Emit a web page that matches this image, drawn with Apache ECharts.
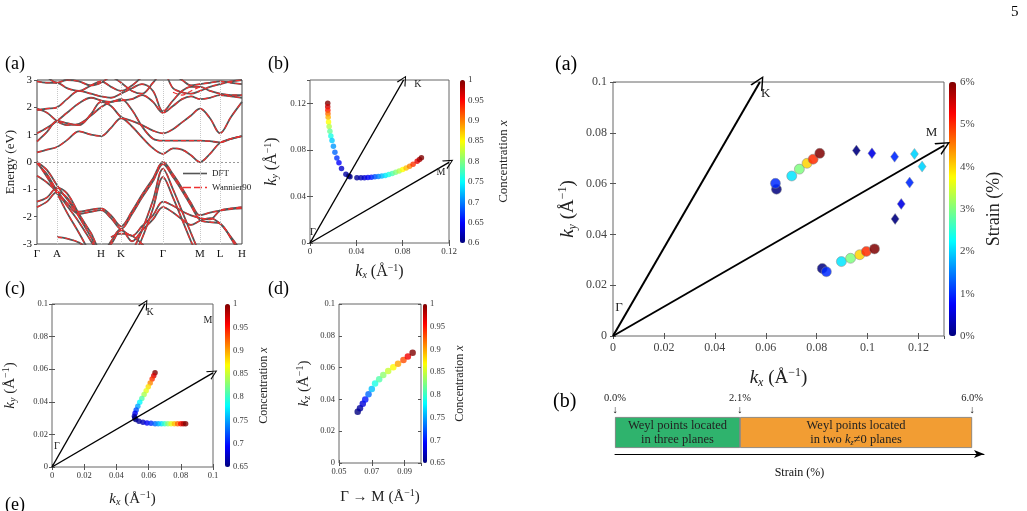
<!DOCTYPE html>
<html>
<head>
<meta charset="utf-8">
<script src="https://cdn.jsdelivr.net/npm/echarts@6/dist/echarts.min.js"></script>
<style>html,body{margin:0;padding:0;background:#fff}#main{width:1027px;height:511px}</style>
</head>
<body>
<div id="main"></div>
<script>
const FONT = '"Liberation Serif", "DejaVu Serif", serif';
const JET = ['#00007f', '#0000ff', '#007fff', '#00ffff', '#7fff7f', '#ffff00', '#ff7f00', '#ff0000', '#7f0000'];

// ---- (a) band structure ----
const kPath = [0, 10, 20, 30, 42, 54, 64, 74, 84, 95, 105, 116, 126, 136, 145, 154, 163, 173, 183, 194, 205];
const kTicks = [0, 20, 64, 84, 126, 163, 183, 205];
const kTickLabels = ['Γ', 'A', 'H', 'K', 'Γ', 'M', 'L', 'H'];
const bands = [
    [0.35, 0.45, 0.55, 0.8, 1.12, 1.0, 0.95, 1.25, 1.6, 1.3, 0.9, 0.5, 0.3, 0.5, 0.45, 0.25, 0.0, 0.3, 0.7, 0.85, 0.95],
    [0.75, 1.1, 1.5, 1.42, 1.35, 1.75, 2.2, 2.05, 1.65, 1.5, 1.35, 1.15, 1.05, 1.2, 1.45, 1.7, 1.95, 1.6, 1.05, 1.65, 2.2],
    [1.05, 1.25, 1.5, 1.8, 2.15, 2.35, 2.25, 2.2, 2.3, 1.9, 1.3, 0.85, 0.78, 0.78, 0.78, 0.78, 0.78, 0.76, 0.72, 0.85, 0.95],
    [1.95, 1.8, 1.5, 1.35, 1.4, 1.7, 2.0, 2.2, 2.25, 2.3, 2.45, 2.2, 1.8, 2.05, 2.3, 2.4, 2.3, 2.35, 2.45, 2.4, 2.35],
    [1.9, 1.95, 2.0, 2.3, 2.6, 2.5, 2.4, 2.35, 2.5, 2.7, 2.85, 2.6, 1.85, 2.25, 2.6, 2.75, 2.75, 2.6, 2.5, 2.45, 2.45],
    [2.95, 2.9, 2.9, 2.7, 2.6, 2.8, 2.95, 2.75, 2.6, 2.8, 3.1, 3.3, 3.4, 3.2, 3.0, 2.8, 2.85, 2.9, 2.95, 2.9, 2.85],
    [3.3, 3.1, 2.9, 3.0, 2.95, 2.8, 2.9, 3.1, 2.9, 2.6, 2.5, 2.9, 3.3, 2.7, 2.55, 2.5, 2.6, 2.75, 2.85, 2.95, 3.0],
    [0, -0.3, -0.85, -1.35, -1.82, -1.74, -1.7, -1.95, -2.35, -1.8, -1.2, -0.6, 0, -0.45, -0.95, -1.5, -1.95, -1.85, -1.78, -1.72, -1.7],
    [-0.05, -0.45, -1.05, -1.5, -1.9, -1.82, -1.76, -2.05, -2.45, -1.9, -1.3, -0.7, -0.08, -0.55, -1.05, -1.6, -2.12, -2.2, -2.25, -2.8, -3.5],
    [0, -0.55, -1.15, -1.85, -2.6, -3.4, null, null, null, -3.3, -2.5, -1.4, -0.25, -1.0, -1.8, -2.6, -3.4, null, null, null, null],
    [-0.5, -0.75, -1.1, -1.6, -2.2, -2.9, -3.5, null, null, -3.6, -2.8, -1.7, -0.55, -1.3, -2.1, -2.9, -3.6, null, null, null, null],
    [-1.45, -1.3, -0.95, -1.15, -1.9, -2.6, -3.2, -3.0, -2.5, -2.7, -2.35, -1.95, -1.45, -1.6, -1.8, -1.95, -2.05, -2.1, -1.78, -1.7, -1.65],
    [-1.65, -1.45, -1.1, -1.3, -2.0, -2.75, -3.4, -2.9, -2.45, -2.9, -2.5, -2.1, -1.65, -1.85, -2.1, -2.3, -2.15, -2.05, -2.25, -2.75, -3.3],
    [null, null, -2.75, -2.8, -2.95, -3.3, null, -2.75, -2.62, -2.7, -3.0, -3.4, null, null, null, null, null, null, null, null, null]
];
const wannierExtra = [null, null, null, null, null, null, null, null, null, null, null, null, null, 2.55, 2.45, 2.6, 2.75, null, null, null, null];

// ---- (b) Weyl point path, kz = 0 plane: [kx, ky, concentration] ----
const bUpper = [[0.0153, 0.120, 1.0], [0.0153, 0.117, 0.97], [0.0154, 0.114, 0.94], [0.0155, 0.111, 0.91], [0.0157, 0.108, 0.88],
    [0.0160, 0.104, 0.85], [0.0165, 0.100, 0.82], [0.0172, 0.096, 0.79], [0.0180, 0.092, 0.76], [0.0190, 0.088, 0.73],
    [0.0202, 0.083, 0.71], [0.0215, 0.078, 0.69], [0.0232, 0.073, 0.67], [0.0250, 0.069, 0.65], [0.0272, 0.064, 0.63],
    [0.0310, 0.059, 0.615], [0.0335, 0.0575, 0.60]];
const bLower = [[0.0345, 0.0568, 0.60], [0.0405, 0.0561, 0.61], [0.0440, 0.0560, 0.62], [0.0470, 0.0561, 0.63], [0.0500, 0.0563, 0.645],
    [0.0530, 0.0565, 0.66], [0.0560, 0.0568, 0.68], [0.0590, 0.0571, 0.70], [0.0620, 0.0575, 0.72], [0.0650, 0.0580, 0.74],
    [0.0680, 0.0588, 0.76], [0.0710, 0.0597, 0.78], [0.0740, 0.0607, 0.80], [0.0770, 0.0618, 0.82], [0.0800, 0.0631, 0.85],
    [0.0830, 0.0645, 0.875], [0.0860, 0.0660, 0.90], [0.0890, 0.0677, 0.93], [0.0925, 0.0702, 0.96], [0.0945, 0.0718, 0.98], [0.0962, 0.0733, 1.0]];
const bTips = [[0.0808, 0.14], [0.1200, 0.0693]];
const bLabels = [['K', 0.0932, 0.1366], ['M', 0.1131, 0.061], ['Γ', 0.0026, 0.0094]];

// ---- (c) ----
const cUpper = [[0.0640, 0.0578, 1.0], [0.0632, 0.0560, 0.97], [0.0622, 0.0540, 0.94], [0.0610, 0.0515, 0.91], [0.0598, 0.0492, 0.88],
    [0.0585, 0.0468, 0.86], [0.0572, 0.0445, 0.84], [0.0558, 0.0420, 0.81], [0.0545, 0.0397, 0.78], [0.0533, 0.0373, 0.75],
    [0.0523, 0.0350, 0.72], [0.0516, 0.0330, 0.69], [0.0512, 0.0312, 0.67], [0.0514, 0.0300, 0.65]];
const cLower = [[0.0520, 0.0292, 0.65], [0.0540, 0.0281, 0.66], [0.0565, 0.0274, 0.67], [0.0590, 0.0270, 0.69], [0.0615, 0.0268, 0.71],
    [0.0640, 0.0266, 0.73], [0.0660, 0.0265, 0.75], [0.0680, 0.0265, 0.77], [0.0700, 0.0265, 0.80], [0.0720, 0.0265, 0.83],
    [0.0740, 0.0265, 0.86], [0.0760, 0.0265, 0.89], [0.0780, 0.0265, 0.92], [0.0800, 0.0265, 0.95], [0.0815, 0.0265, 0.98], [0.0830, 0.0265, 1.0]];
const cTips = [[0.0577, 0.1], [0.1, 0.0577]];
const cLabels = [['K', 0.0609, 0.0951], ['M', 0.0969, 0.0902], ['Γ', 0.0031, 0.0129]];

// ---- (d) ----
const dCurve = [[0.0614, 0.0323, 0.65], [0.0628, 0.0344, 0.66], [0.0645, 0.0372, 0.68], [0.0660, 0.0400, 0.70], [0.0680, 0.0432, 0.73],
    [0.0700, 0.0465, 0.76], [0.0720, 0.0500, 0.79], [0.0745, 0.0527, 0.81], [0.0770, 0.0553, 0.83], [0.0800, 0.0578, 0.85],
    [0.0831, 0.0602, 0.87], [0.0860, 0.0625, 0.90], [0.0893, 0.0648, 0.93], [0.0920, 0.0670, 0.96], [0.0949, 0.0694, 1.0]];

// ---- right (a): Weyl points under strain: [kx, ky, strain %] ----
const strainCircles = [[0.0642, 0.0578, 0], [0.0638, 0.0601, 1.0], [0.0702, 0.0630, 2.1], [0.0732, 0.0657, 3.0], [0.0762, 0.0680, 4.0],
    [0.0786, 0.0696, 5.0], [0.0812, 0.0719, 6.0],
    [0.0822, 0.0266, 0], [0.0838, 0.0253, 1.0], [0.0897, 0.0293, 2.1], [0.0933, 0.0306, 3.0], [0.0969, 0.0320, 4.0],
    [0.0995, 0.0333, 5.0], [0.1027, 0.0343, 6.0]];
const strainDiamonds = [[0.0956, 0.0730, 0], [0.1017, 0.0719, 0.6], [0.1106, 0.0706, 1.0], [0.1184, 0.0717, 2.0],
    [0.1214, 0.0667, 2.0], [0.1165, 0.0604, 1.0], [0.1132, 0.0520, 0.6], [0.1108, 0.0461, 0]];
const raTips = [[0.0577, 0.1], [0.13, 0.075]];
const raLabels = [['K', 0.0600, 0.0953], ['M', 0.1251, 0.0799], ['Γ', 0.0024, 0.011]];

// ---- right (b): strain phases ----
const phaseEdges = [0, 2.1, 6.0];

const chart = echarts.init(document.getElementById('main'));

function rich(fs) {
    return {
        n: {fontFamily: FONT, fontSize: fs, color: '#222'},
        i: {fontFamily: FONT, fontSize: fs, fontStyle: 'italic', color: '#222'},
        s: {fontFamily: FONT, fontSize: Math.round(fs * 0.65), fontStyle: 'italic', color: '#222', padding: [Math.round(fs * 0.45), 0, 0, 0]},
        p: {fontFamily: FONT, fontSize: Math.round(fs * 0.65), color: '#222', padding: [0, 0, Math.round(fs * 0.5), 0]}
    };
}
function kName(sub) {
    return '{i|k}{s|' + sub + '}{n| (Å}{p|−1}{n|)}';
}

function valAxis(gridIndex, min, max, interval, fs, o) {
    o = o || {};
    return {
        type: 'value', gridIndex: gridIndex, min: min, max: max, interval: interval,
        position: o.position,
        name: o.name || '', nameLocation: 'middle', nameGap: o.nameGap || 20,
        nameTextStyle: {fontFamily: FONT, fontSize: o.nameSize || 14, color: '#222', rich: rich(o.nameSize || 14)},
        axisLine: {show: false},
        axisTick: {show: o.ticks !== false, inside: o.outside ? false : true, length: 3, lineStyle: {color: '#555'}},
        axisLabel: {
            show: o.labels !== false, fontFamily: FONT, fontSize: fs, color: o.labelColor || '#333',
            margin: o.margin || 4, showMaxLabel: o.hideMax ? false : null,
            formatter: o.formatter
        },
        splitLine: {show: false}
    };
}

function arrowMark(tips, width, size) {
    return {
        silent: true, animation: false,
        symbol: ['none', 'path://M0,12 L5,0 L10,12 L8.8,12 L5,2.6 L1.2,12 Z'],
        symbolSize: size,
        lineStyle: {color: '#000', width: width, type: 'solid'},
        label: {show: false},
        emphasis: {disabled: true},
        data: tips.map(function (t) { return [{coord: [0, 0]}, {coord: t}]; })
    };
}
function labelMark(items, fs) {
    return {
        silent: true, animation: false, symbol: 'circle', symbolSize: 0,
        label: {show: true, position: 'inside', formatter: function (p) { return p.name; }, fontFamily: FONT, fontSize: fs, color: '#222'},
        data: items.map(function (it) { return {name: it[0], coord: [it[1], it[2]]}; })
    };
}
function cbar(seriesIndex, min, max, left, top, w, h) {
    return {
        type: 'continuous', seriesIndex: seriesIndex, dimension: 2, min: min, max: max,
        inRange: {color: JET}, left: left, top: top, itemWidth: w, itemHeight: h,
        padding: 0, calculable: false, hoverLink: false, text: null, show: true
    };
}

const gridStyle = {show: true, borderColor: '#666', borderWidth: 1, backgroundColor: 'transparent'};
const grids = [
    Object.assign({left: 37, top: 80, width: 205, height: 164}, gridStyle, {borderColor: '#444'}),
    Object.assign({left: 310, top: 80, width: 139, height: 163}, gridStyle),
    Object.assign({left: 52, top: 304, width: 161, height: 163}, gridStyle),
    Object.assign({left: 339, top: 304, width: 82, height: 159}, gridStyle),
    Object.assign({left: 613, top: 82, width: 331, height: 254}, gridStyle),
    {left: 615, top: 417, width: 369, height: 31, show: false},
    {left: 460, top: 80, width: 5, height: 163, show: false},
    {left: 225, top: 304, width: 5, height: 163, show: false},
    {left: 423, top: 304, width: 4, height: 159, show: false},
    {left: 949, top: 82, width: 7, height: 254, show: false}
];

const hidden = function (g) { return {type: 'value', gridIndex: g, show: false, min: 0, max: 1}; };
const fmt2 = function (v) { return String(+v.toFixed(2)); };

const xAxes = [
    // 0 band
    {
        type: 'value', gridIndex: 0, min: 0, max: 205,
        axisLine: {show: false}, axisTick: {show: false}, splitLine: {show: false},
        axisLabel: {
            customValues: kTicks, fontFamily: FONT, fontSize: 11, color: '#111', margin: 5,
            formatter: function (v) { const i = kTicks.indexOf(v); return i >= 0 ? kTickLabels[i] : ''; }
        }
    },
    valAxis(1, 0, 0.12, 0.04, 9, {name: kName('x'), nameGap: 20, nameSize: 16}),
    valAxis(2, 0, 0.1, 0.02, 8.5, {name: kName('x'), nameGap: 23, nameSize: 15}),
    valAxis(3, 0.05, 0.1, 0.02, 8.5, {hideMax: true, name: '{n|Γ → M (Å}{p|−1}{n|)}', nameGap: 25, nameSize: 15, formatter: fmt2}),
    valAxis(4, 0, 0.13, 0.02, 12, {hideMax: true, name: kName('x'), nameGap: 31, nameSize: 19, margin: 6, labelColor: '#444', formatter: fmt2}),
    // 5 strain bar bottom axis
    {
        type: 'value', gridIndex: 5, min: 0, max: 6.2, position: 'bottom', offset: 6,
        axisLine: {show: true, symbol: ['none', 'arrow'], symbolSize: [6, 10], lineStyle: {color: '#000', width: 1}},
        axisTick: {show: false}, axisLabel: {show: false}, splitLine: {show: false},
        name: 'Strain (%)', nameLocation: 'middle', nameGap: 13,
        nameTextStyle: {fontFamily: FONT, fontSize: 12, color: '#111'}
    },
    // 6 strain bar top labels
    {
        type: 'value', gridIndex: 5, min: 0, max: 6.2, position: 'top',
        axisLine: {show: false}, axisTick: {show: false}, splitLine: {show: false},
        axisLabel: {
            customValues: phaseEdges, fontFamily: FONT, fontSize: 10.5, color: '#222', margin: 1, lineHeight: 12,
            formatter: function (v) { return v.toFixed(1) + '%\n↓'; }
        }
    },
    hidden(6), hidden(7), hidden(8), hidden(9),
    // 11-14 mirrored top ticks
    valAxis(1, 0, 0.12, 0.04, 9, {position: 'top', labels: false}),
    valAxis(2, 0, 0.1, 0.02, 9, {position: 'top', labels: false}),
    valAxis(3, 0.05, 0.1, 0.02, 9, {position: 'top', labels: false}),
    valAxis(4, 0, 0.13, 0.02, 9, {position: 'top', labels: false})
];

const yAxes = [
    valAxis(0, -3, 3, 1, 11, {name: 'Energy (eV)', nameGap: 20, nameSize: 13, outside: true, labelColor: '#111', margin: 5}),
    valAxis(1, 0, 0.14, 0.04, 9, {hideMax: true, name: kName('y'), nameGap: 29, nameSize: 16}),
    valAxis(2, 0, 0.1, 0.02, 8.5, {name: kName('y'), nameGap: 33, nameSize: 15}),
    valAxis(3, 0, 0.1, 0.02, 8.5, {name: kName('z'), nameGap: 26, nameSize: 15}),
    valAxis(4, 0, 0.1, 0.02, 12, {name: kName('y'), nameGap: 34, nameSize: 19, margin: 6, labelColor: '#444'}),
    {type: 'category', gridIndex: 5, data: ['strain'], show: false},
    valAxis(6, 0.6, 1, 0.05, 9, {position: 'right', ticks: false, margin: 3, formatter: fmt2, name: '{n|Concentration }{i|x}', nameGap: 32, nameSize: 13}),
    valAxis(7, 0.65, 1, 0.05, 8.5, {position: 'right', ticks: false, margin: 3, formatter: fmt2, name: '{n|Concentration }{i|x}', nameGap: 28, nameSize: 12}),
    valAxis(8, 0.65, 1, 0.05, 8.5, {position: 'right', ticks: false, margin: 3, formatter: fmt2, name: '{n|Concentration }{i|x}', nameGap: 27, nameSize: 12}),
    valAxis(9, 0, 6, 1, 11, {position: 'right', ticks: false, margin: 4, labelColor: '#444',
        formatter: function (v) { return v + '%'; }, name: 'Strain (%)', nameGap: 29, nameSize: 18}),
    // 10-13 mirrored right ticks
    valAxis(1, 0, 0.14, 0.04, 9, {position: 'right', labels: false}),
    valAxis(2, 0, 0.1, 0.02, 9, {position: 'right', labels: false}),
    valAxis(3, 0, 0.1, 0.02, 9, {position: 'right', labels: false}),
    valAxis(4, 0, 0.1, 0.02, 9, {position: 'right', labels: false})
];

const series = [
    {type: 'scatter', xAxisIndex: 1, yAxisIndex: 1, data: bUpper.concat(bLower), symbolSize: 5.5, silent: true},
    {type: 'scatter', xAxisIndex: 2, yAxisIndex: 2, data: cUpper.concat(cLower), symbolSize: 5.5, silent: true},
    {type: 'scatter', xAxisIndex: 3, yAxisIndex: 3, data: dCurve, symbolSize: 6.5, silent: true},
    {type: 'scatter', xAxisIndex: 4, yAxisIndex: 4, data: strainCircles, symbolSize: 10, silent: true,
        itemStyle: {opacity: 0.85, borderColor: '#888', borderWidth: 0.6}},
    {type: 'scatter', xAxisIndex: 4, yAxisIndex: 4, data: strainDiamonds, symbol: 'diamond', symbolSize: [8, 11], silent: true,
        itemStyle: {opacity: 0.9, borderColor: '#999', borderWidth: 0.5}},
    {type: 'line', xAxisIndex: 1, yAxisIndex: 1, data: [], markLine: arrowMark(bTips, 1.4, 10), markPoint: labelMark(bLabels, 10)},
    {type: 'line', xAxisIndex: 2, yAxisIndex: 2, data: [], markLine: arrowMark(cTips, 1.4, 10), markPoint: labelMark(cLabels, 10)},
    {type: 'line', xAxisIndex: 4, yAxisIndex: 4, data: [], markLine: arrowMark(raTips, 2, 14), markPoint: labelMark(raLabels, 13)},
    {type: 'bar', xAxisIndex: 5, yAxisIndex: 5, stack: 'phase', barWidth: 31, silent: true,
        data: [phaseEdges[1] - phaseEdges[0]],
        itemStyle: {color: '#2fb36d', borderColor: '#777', borderWidth: 0.8},
        label: {show: true, position: 'inside', lineHeight: 14, rich: rich(12.5),
            formatter: '{n|Weyl points located}\n{n|in three planes}'}},
    {type: 'bar', xAxisIndex: 5, yAxisIndex: 5, stack: 'phase', barWidth: 31, silent: true,
        data: [phaseEdges[2] - phaseEdges[1]],
        itemStyle: {color: '#f29d33', borderColor: '#777', borderWidth: 0.8},
        label: {show: true, position: 'inside', lineHeight: 14, rich: rich(12.5),
            formatter: '{n|Weyl points located}\n{n|in two }{i|k}{s|z}{n|≠0 planes}'}}
];

// band lines: DFT (grey, solid) under Wannier90 (red, dashed)
function bandLine(name, vals, color, type, width, z) {
    return {
        type: 'line', name: name, xAxisIndex: 0, yAxisIndex: 0, silent: true, z: z,
        data: kPath.map(function (k, i) { return [k, vals[i]]; }),
        smooth: 0.35, showSymbol: false, symbol: 'none',
        lineStyle: {color: color, type: type, width: width}, itemStyle: {color: color}
    };
}
bands.forEach(function (b, i) {
    const s = bandLine('DFT', b, '#555', 'solid', 1.8, 2);
    if (i === 0) {
        s.markLine = {
            silent: true, symbol: 'none', animation: false, label: {show: false},
            lineStyle: {color: '#c8c8c8', type: 'dotted', width: 1},
            data: kTicks.slice(1, -1).map(function (x) { return {xAxis: x}; })
                .concat([{yAxis: 0, lineStyle: {color: '#999', type: [2, 2], width: 1}}])
        };
    }
    series.push(s);
});
bands.forEach(function (b) { series.push(bandLine('Wannier90', b, '#ee3030', [5, 3], 1.2, 3)); });
series.push(bandLine('Wannier90', wannierExtra, '#ee3030', [5, 3], 1.2, 3));

function letter(t, x, y, fs) {
    return {type: 'text', left: x, top: y, style: {text: t, fontFamily: FONT, fontSize: fs, fill: '#000'}};
}

const option = {
    backgroundColor: '#fff',
    animation: false,
    grid: grids,
    xAxis: xAxes,
    yAxis: yAxes,
    visualMap: [
        cbar(0, 0.6, 1, 460, 80, 5, 163),
        cbar(1, 0.65, 1, 225, 304, 5, 163),
        cbar(2, 0.65, 1, 423, 304, 4, 159),
        cbar([3, 4], 0, 6, 949, 82, 7, 254)
    ],
    legend: {
        left: 178, top: 164, orient: 'vertical', itemWidth: 24, itemHeight: 6, itemGap: 5,
        selectedMode: false,
        data: [
            {name: 'DFT', icon: 'path://M0,2 L24,2 L24,3.6 L0,3.6 Z'},
            {name: 'Wannier90', icon: 'path://M0,2 h8 v1.3 h-8 Z M11,2 h8 v1.3 h-8 Z M22,2 h2 v1.3 h-2 Z'}
        ],
        textStyle: {fontFamily: FONT, fontSize: 9, color: '#222'}
    },
    graphic: [
        letter('(a)', 5, 55, 18), letter('(b)', 268, 55, 18),
        letter('(c)', 5, 280, 18), letter('(d)', 268, 280, 18), letter('(e)', 5, 496, 18),
        letter('(a)', 555, 55, 20), letter('(b)', 553, 392, 20),
        letter('5', 1011, 5, 15)
    ],
    series: series
};
chart.setOption(option);
</script>
</body>
</html>
